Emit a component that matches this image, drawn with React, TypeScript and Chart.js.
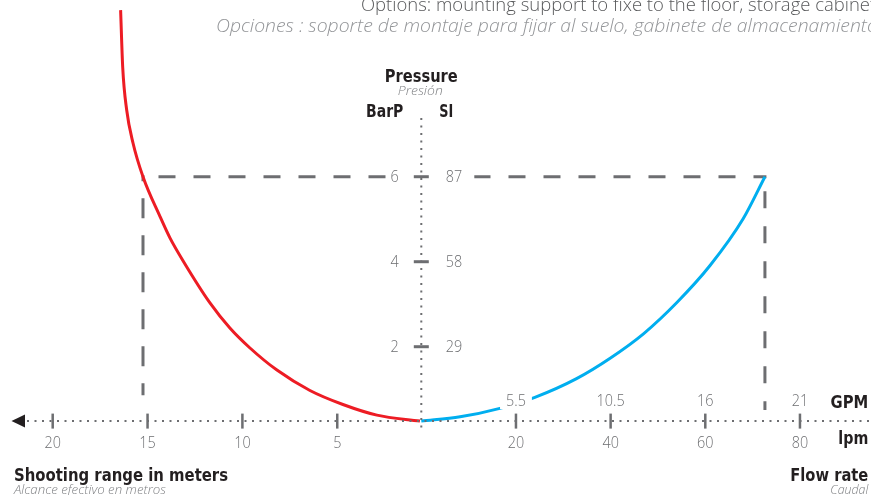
import React, { useEffect, useRef } from "react";
import { Chart, registerables } from "chart.js";

Chart.register(...registerables);

// ---- data ----
// Shooting range curve: range in meters vs pressure in bar
const rangeMeters = [16.42, 16.31, 16.1, 15.77, 15.24, 14.34, 13.82, 13.1, 11.71, 10.66, 9.6, 8.18, 6.44, 4.7, 2.91, 0.64];
const rangePressureBar = [9.92, 8.58, 7.57, 6.8, 6.0, 5.06, 4.56, 4.0, 3.03, 2.44, 1.97, 1.45, 0.97, 0.64, 0.39, 0.25];

// Flow rate curve: flow in lpm vs pressure in bar
const flowLpm = [0, 8.2, 16.6, 24.0, 32.8, 39.9, 47.0, 54.0, 61.0, 68.0, 72.6];
const flowPressureBar = [0.25, 0.35, 0.55, 0.81, 1.25, 1.73, 2.31, 3.04, 3.91, 5.01, 6.0];

// tick labels
const rangeTicks = [20, 15, 10, 5];
const flowTicksLpm = [20, 40, 60, 80];
const flowTicksGpm = ["5.5", "10.5", "16", "21"];
const pressureTicksBar = [6, 4, 2];
const pressureTicksSi = ["87", "58", "29"];

// reference guide (6 bar)
const guidePressureBar = 6;
const guideRangeM = 15.24;
const guideFlowLpm = 72.6;
const guideLeftEndBar = 0.86;
const guideRightEndBar = 0.51;
const axisBaseBar = 0.25;

// texts
const optionsEn = "Options: mounting support to fixe to the floor, storage cabinet";
const optionsEnVisible = "Options: mounting support to fixe to the floor, storage cabine";
const optionsEs = "Opciones : soporte de montaje para fijar al suelo, gabinete de almacenamiento";
const optionsEsVisible = "Opciones : soporte de montaje para fijar al suelo, gabinete de almacenamient";

const RED = "#ed1c24";
const BLUE = "#00aeef";
const GRAY = "#6d6e71";
const DARK = "#231f20";
const LIGHT = "#808285";

const NUM_FONT = "300 16px 'Open Sans', 'DejaVu Sans', sans-serif";
const BOLD_FONT = "bold 17px 'DejaVu Sans', sans-serif";
const ITAL_FONT = "italic 300 12px 'Open Sans', 'DejaVu Sans', sans-serif";

type Align = "left" | "center" | "right";

function drawText(
  ctx: CanvasRenderingContext2D,
  s: string,
  x: number,
  y: number,
  font: string,
  color: string,
  align: Align,
  opts: { width?: number; hscale?: number; prefix?: string } = {}
) {
  ctx.save();
  ctx.font = font;
  const w = ctx.measureText(opts.prefix ?? s).width;
  const k = opts.width ? opts.width / w : opts.hscale ?? 1;
  ctx.translate(x, y);
  ctx.scale(k, 1);
  ctx.textAlign = align;
  ctx.textBaseline = "alphabetic";
  ctx.fillStyle = color;
  ctx.fillText(s, 0, 0);
  ctx.restore();
}

function textWidth(ctx: CanvasRenderingContext2D, s: string, font: string, k: number) {
  ctx.save();
  ctx.font = font;
  const w = ctx.measureText(s).width * k;
  ctx.restore();
  return w;
}

const guidePlugin = {
  id: "guides",
  beforeDatasetsDraw(chart: any) {
    const ctx: CanvasRenderingContext2D = chart.ctx;
    const sx = chart.scales.range;
    const sf = chart.scales.flow;
    const sy = chart.scales.p;
    const gx1 = sx.getPixelForValue(guideRangeM);
    const gx2 = sf.getPixelForValue(guideFlowLpm);
    const gy = sy.getPixelForValue(guidePressureBar);
    ctx.save();
    ctx.strokeStyle = GRAY;
    ctx.lineWidth = 3;
    ctx.lineCap = "butt";
    // horizontal
    ctx.setLineDash([17, 18]);
    ctx.lineDashOffset = 18;
    ctx.beginPath();
    ctx.moveTo(gx1 - 1.5, gy);
    ctx.lineTo(gx2 + 1.5, gy);
    ctx.stroke();
    // left vertical
    ctx.setLineDash([20, 17]);
    ctx.lineDashOffset = 14;
    ctx.beginPath();
    ctx.moveTo(gx1, gy - 1.5);
    ctx.lineTo(gx1, sy.getPixelForValue(guideLeftEndBar));
    ctx.stroke();
    // right vertical
    ctx.setLineDash([17, 18]);
    ctx.lineDashOffset = 19;
    ctx.beginPath();
    ctx.moveTo(gx2, gy - 1.5);
    ctx.lineTo(gx2, sy.getPixelForValue(guideRightEndBar));
    ctx.stroke();
    ctx.restore();
  },
  afterDatasetsDraw(chart: any) {
    const ctx: CanvasRenderingContext2D = chart.ctx;
    const sx = chart.scales.range;
    const sf = chart.scales.flow;
    const sy = chart.scales.p;
    const ox = sf.getPixelForValue(0);
    const oy = sy.getPixelForValue(axisBaseBar);
    const W = chart.width;

    ctx.save();
    // white knock-outs behind labels
    ctx.fillStyle = "#ffffff";
    pressureTicksBar.forEach((v) => {
      const y = sy.getPixelForValue(v);
      ctx.fillRect(ox - 34, y - 9, 87, 18);
    });
    flowTicksLpm.forEach((v, i) => {
      const x = sf.getPixelForValue(v);
      const w = textWidth(ctx, flowTicksGpm[i], NUM_FONT, 0.9);
      ctx.fillRect(x - w / 2 - 6, oy - 29, w + 12, 17);
    });

    // horizontal dotted axis
    ctx.strokeStyle = GRAY;
    ctx.lineWidth = 2;
    ctx.setLineDash([2, 5.5]);
    ctx.beginPath();
    ctx.moveTo(27, oy);
    ctx.lineTo(W, oy);
    ctx.stroke();
    // vertical dotted axis
    ctx.beginPath();
    ctx.moveTo(ox, 118);
    ctx.lineTo(ox, oy + 8);
    ctx.stroke();
    ctx.setLineDash([]);

    // arrow
    ctx.fillStyle = DARK;
    ctx.beginPath();
    ctx.moveTo(11.5, oy);
    ctx.lineTo(25, oy - 6.5);
    ctx.lineTo(25, oy + 6.5);
    ctx.closePath();
    ctx.fill();

    // ticks
    ctx.fillStyle = GRAY;
    rangeTicks.forEach((v) => {
      const x = sx.getPixelForValue(v);
      ctx.fillRect(x - 1.25, oy - 7.5, 2.5, 15);
    });
    flowTicksLpm.forEach((v) => {
      const x = sf.getPixelForValue(v);
      ctx.fillRect(x - 1.25, oy - 7.5, 2.5, 15);
    });
    pressureTicksBar.forEach((v) => {
      const y = sy.getPixelForValue(v);
      ctx.fillRect(ox - 7.5, y - 1.5, 15, 3);
    });
    ctx.restore();

    // tick labels
    rangeTicks.forEach((v) => {
      drawText(ctx, String(v), sx.getPixelForValue(v), oy + 27.3, NUM_FONT, GRAY, "center", { hscale: 0.9 });
    });
    flowTicksLpm.forEach((v) => {
      drawText(ctx, String(v), sf.getPixelForValue(v), oy + 27.3, NUM_FONT, GRAY, "center", { hscale: 0.9 });
    });
    flowTicksLpm.forEach((v, i) => {
      drawText(ctx, flowTicksGpm[i], sf.getPixelForValue(v), oy - 15.3, NUM_FONT, GRAY, "center", { hscale: 0.9 });
    });
    pressureTicksBar.forEach((v, i) => {
      const y = sy.getPixelForValue(v) + 5.5;
      drawText(ctx, String(v), ox - 22.5, y, NUM_FONT, GRAY, "right", { hscale: 0.9 });
      drawText(ctx, pressureTicksSi[i], ox + 24.5, y, NUM_FONT, GRAY, "left", { hscale: 0.9 });
    });

    // axis titles
    drawText(ctx, "Pressure", ox, 81.7, BOLD_FONT, DARK, "center", { width: 73 });
    drawText(ctx, "Presión", ox - 1, 95, ITAL_FONT, LIGHT, "center", { width: 45 });
    drawText(ctx, "BarP", 403.3, 116.7, BOLD_FONT, DARK, "right", { width: 37.3 });
    drawText(ctx, "SI", 439.3, 116.7, BOLD_FONT, DARK, "left", { width: 14 });
    drawText(ctx, "GPM", 868.3, 408.3, BOLD_FONT, DARK, "right", { width: 37.7 });
    drawText(ctx, "lpm", 868.3, 443.5, BOLD_FONT, DARK, "right", { width: 30 });
    drawText(ctx, "Shooting range in meters", 14, 480.5, BOLD_FONT, DARK, "left", { width: 214 });
    drawText(ctx, "Alcance efectivo en metros", 14, 494, ITAL_FONT, LIGHT, "left", { width: 152 });
    drawText(ctx, "Flow rate", 868.3, 480.5, BOLD_FONT, DARK, "right", { width: 78 });
    drawText(ctx, "Caudal", 868.3, 494, ITAL_FONT, LIGHT, "right", { width: 38 });

    // top notes
    drawText(ctx, optionsEn, 361, 10.7, "300 18.5px 'Open Sans', 'DejaVu Sans', sans-serif", "#58595b", "left", {
      width: 509,
      prefix: optionsEnVisible,
    });
    drawText(ctx, optionsEs, 216, 31.7, "italic 300 18.5px 'Open Sans', 'DejaVu Sans', sans-serif", "#939598", "left", {
      width: 651,
      prefix: optionsEsVisible,
    });
  },
};

export default function App() {
  const canvasRef = useRef<HTMLCanvasElement | null>(null);

  useEffect(() => {
    if (!canvasRef.current) return;
    const chart = new Chart(canvasRef.current, {
      type: "scatter",
      data: {
        datasets: [
          {
            label: "Shooting range",
            data: rangeMeters.map((m, i) => ({ x: m, y: rangePressureBar[i] })),
            xAxisID: "range",
            yAxisID: "p",
            showLine: true,
            borderColor: RED,
            backgroundColor: RED,
            borderWidth: 3,
            pointRadius: 0,
            cubicInterpolationMode: "monotone",
            fill: false,
          },
          {
            label: "Flow rate",
            data: flowLpm.map((f, i) => ({ x: f, y: flowPressureBar[i] })),
            xAxisID: "flow",
            yAxisID: "p",
            showLine: true,
            borderColor: BLUE,
            backgroundColor: BLUE,
            borderWidth: 3,
            pointRadius: 0,
            cubicInterpolationMode: "monotone",
            fill: false,
          },
        ],
      },
      options: {
        animation: false,
        responsive: false,
        events: [],
        layout: { padding: 0 },
        plugins: {
          legend: { display: false },
          tooltip: { enabled: false },
          title: { display: false },
        },
        scales: {
          range: { type: "linear", axis: "x", position: "bottom", reverse: true, min: -23.136, max: 22.778, display: false },
          flow: { type: "linear", axis: "x", position: "bottom", min: -89.01, max: 95.01, display: false },
          p: { type: "linear", axis: "y", position: "left", min: -1.489, max: 10.158, display: false },
        },
      } as any,
      plugins: [guidePlugin],
    });
    return () => chart.destroy();
  }, []);

  return (
    <div style={{ position: "fixed", left: 0, top: 0, width: 871, height: 495, background: "#ffffff" }}>
      <canvas ref={canvasRef} width={871} height={495} style={{ display: "block", width: 871, height: 495 }} />
    </div>
  );
}
